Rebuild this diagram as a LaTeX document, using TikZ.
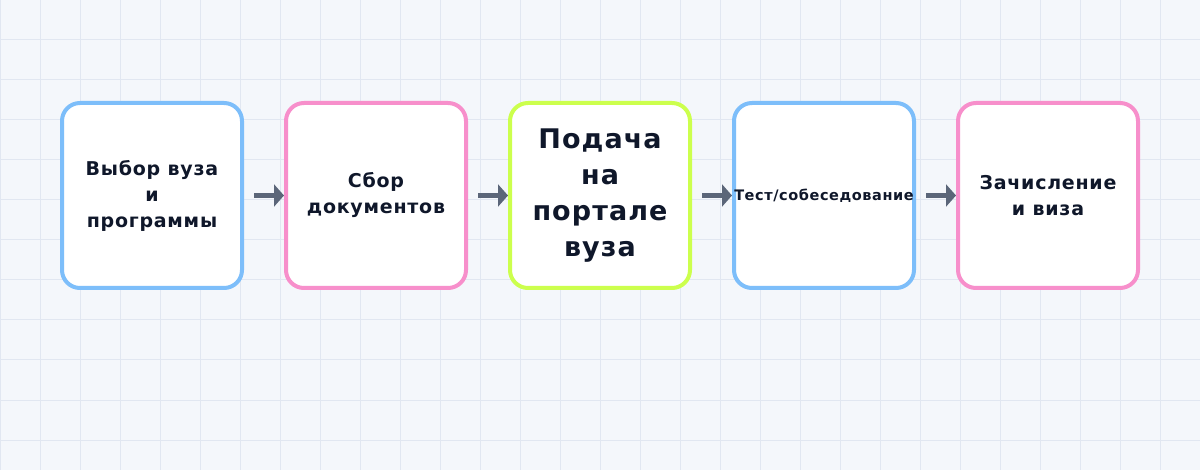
\documentclass[tikz,border=0pt]{standalone}
\usepackage{fontspec}
\setmainfont{DejaVu Sans}
\usetikzlibrary{arrows.meta}
\definecolor{bgc}{HTML}{F4F7FB}
\definecolor{gridc}{HTML}{E1E7F1}
\definecolor{bluec}{HTML}{7DBEFA}
\definecolor{pinkc}{HTML}{F78FCB}
\definecolor{limec}{HTML}{CCFF4D}
\definecolor{txtc}{HTML}{0F172A}
\definecolor{arrc}{HTML}{5B6679}
\newcommand{\boxfont}[2]{\bfseries\fontsize{#1}{#2}\selectfont\addfontfeature{LetterSpace=4}}
\tikzset{
  stepbox/.style={draw, line width=4pt, rounded corners=18pt, fill=white,
    minimum width=180pt, minimum height=185pt, inner sep=0pt,
    align=center, text=txtc, font=\boxfont{19}{26}},
  flow/.style={arrc, line width=5pt, -{Triangle[length=10pt,width=22pt]}, shorten <=10pt}
}
\begin{document}
\begin{tikzpicture}[x=1pt,y=1pt]
\fill[bgc] (0,0) rectangle (1200,-470);
\useasboundingbox (0,0) rectangle (1200,-470);
\foreach \i in {0,40,...,1200} \draw[gridc, line width=1pt] (\i,0) -- (\i,-470);
\foreach \j in {0,40,...,440} \draw[gridc, line width=1pt] (0,-\j) -- (1200,-\j);
\node[stepbox, draw=bluec] (b1) at (152,-195.5) {Выбор вуза\\и\\программы};
\node[stepbox, draw=pinkc] (b2) at (376,-195.5) {Сбор\\документов};
\node[stepbox, draw=limec, font=\boxfont{27}{36}] (b3) at (600,-195.5) {Подача\\на\\портале\\вуза};
\node[stepbox, draw=bluec, font=\boxfont{14.5}{16}] (b4) at (824,-195.5) {Тест/собеседование};
\node[stepbox, draw=pinkc] (b5) at (1048,-195.5) {Зачисление\\и виза};
\draw[flow] (b1.east) -- (b2.west);
\draw[flow] (b2.east) -- (b3.west);
\draw[flow] (b3.east) -- (b4.west);
\draw[flow] (b4.east) -- (b5.west);
\end{tikzpicture}
\end{document}
